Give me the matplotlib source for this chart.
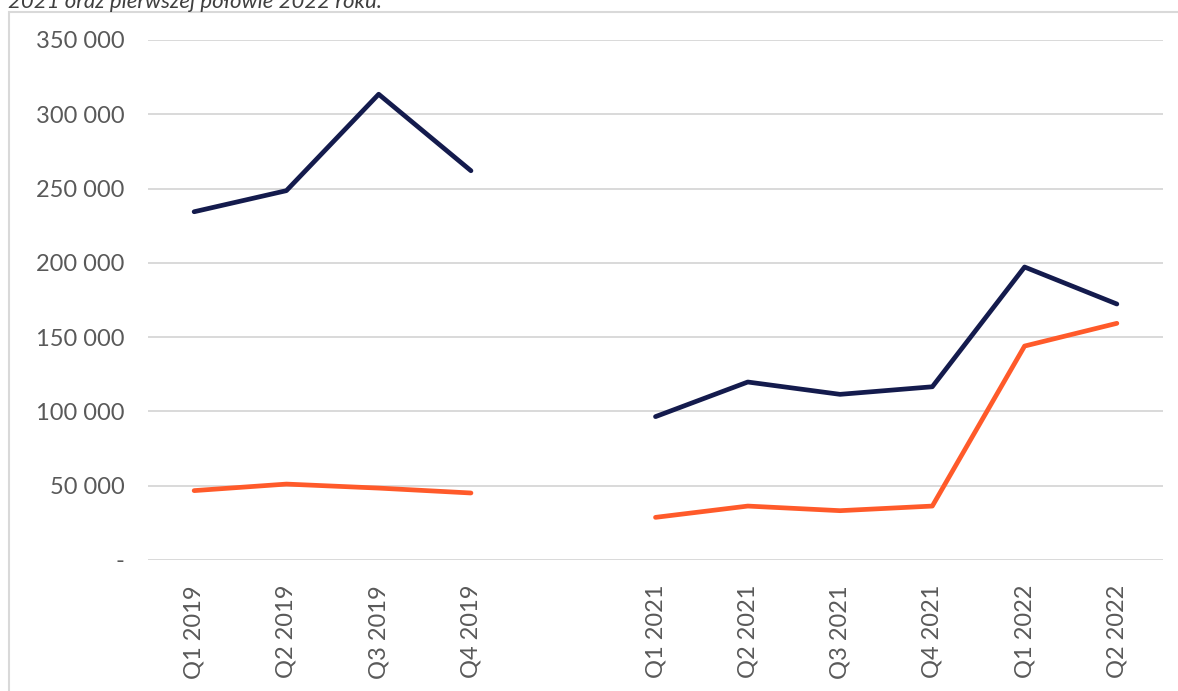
import numpy as np
import matplotlib.pyplot as plt
from matplotlib.patches import Rectangle

plt.rcParams['font.family'] = ['Lato', 'DejaVu Sans']

# categories (one empty slot between 2019 and 2021)
quarters = ['Q1 2019', 'Q2 2019', 'Q3 2019', 'Q4 2019', '',
            'Q1 2021', 'Q2 2021', 'Q3 2021', 'Q4 2021', 'Q1 2022', 'Q2 2022']

navy_values = [234400, 248600, 313500, 262000, np.nan,
               96500, 119800, 111500, 116600, 197200, 172300]
orange_values = [46700, 51100, 48400, 45100, np.nan,
                 28700, 36300, 33200, 36300, 144000, 159300]

yticks = [0, 50000, 100000, 150000, 200000, 250000, 300000, 350000]
ytick_labels = ['-', '50 000', '100 000', '150 000', '200 000',
                '250 000', '300 000', '350 000']

W, H = 1178, 691
fig = plt.figure(figsize=(W / 100, H / 100), dpi=100)
ax = fig.add_axes([148 / W, 1 - 560 / H, (1163 - 148) / W, (560 - 40) / H])

x = np.arange(len(quarters))
ax.plot(x, navy_values, color='#141b4d', lw=3.4, solid_capstyle='round',
        solid_joinstyle='round', zorder=3)
ax.plot(x, orange_values, color='#ff5a2a', lw=3.4, solid_capstyle='round',
        solid_joinstyle='round', zorder=3)

ax.set_xlim(-0.5, len(quarters) - 0.5)
ax.set_ylim(0, 350000)
ax.set_yticks(yticks)
ax.set_yticklabels(ytick_labels)
ax.set_xticks(x)
ax.set_xticklabels(quarters, rotation=90)

ax.grid(axis='y', color='#d9d9d9', lw=1.4)
ax.set_axisbelow(True)
for s in ax.spines.values():
    s.set_visible(False)
ax.tick_params(axis='both', length=0, colors='#595959', labelsize=17)
ax.tick_params(axis='y', pad=17)
ax.tick_params(axis='x', pad=18)

# outer frame of the chart (cut off on right and bottom)
frame = Rectangle((8.5 / W, -0.2), 1.2, 1.2 - 11.5 / H, transform=fig.transFigure,
                  fill=False, edgecolor='#d9d9d9', lw=1.5, clip_on=False)
fig.add_artist(frame)

# partially visible caption at the top
fig.text(8 / W, 1 - 8 / H, '2021 oraz pierwszej połowie 2022 roku.',
         fontsize=16, style='italic', color='#404040', va='baseline', ha='left')

fig.savefig('out.png', dpi=100)
